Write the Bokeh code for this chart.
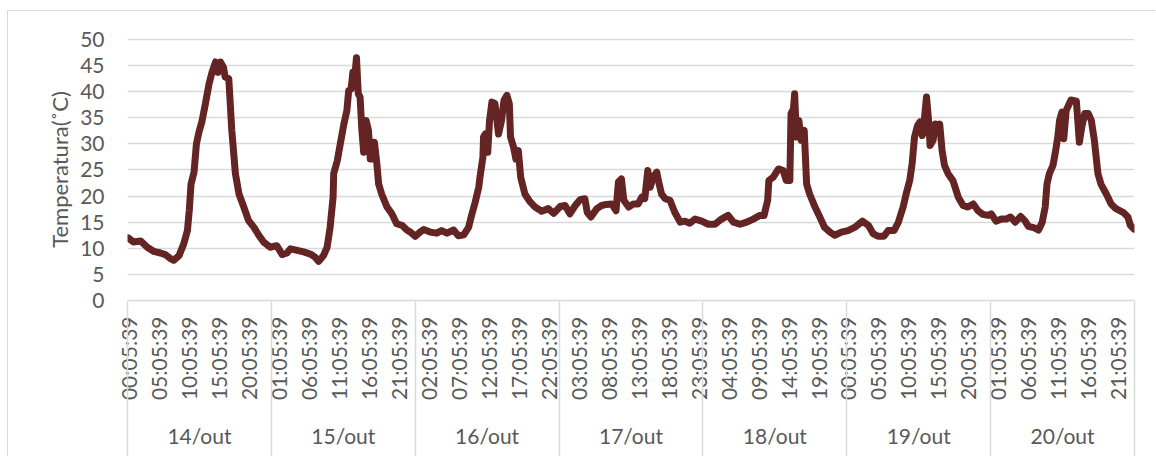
import math
from bokeh.plotting import figure
from bokeh.models import Range1d, FixedTicker, LinearAxis
from bokeh.embed import file_html
from bokeh.resources import INLINE

# ---------------- data ----------------
days = ["14/out", "15/out", "16/out", "17/out", "18/out", "19/out", "20/out"]

time_labels = [
    "00:05:39", "05:05:39", "10:05:39", "15:05:39", "20:05:39",
    "01:05:39", "06:05:39", "11:05:39", "16:05:39", "21:05:39",
    "02:05:39", "07:05:39", "12:05:39", "17:05:39", "22:05:39",
    "03:05:39", "08:05:39", "13:05:39", "18:05:39", "23:05:39",
    "04:05:39", "09:05:39", "14:05:39", "19:05:39",
    "00:05:39", "05:05:39", "10:05:39", "15:05:39", "20:05:39",
    "01:05:39", "06:05:39", "11:05:39", "16:05:39", "21:05:39",
]

y_ticks = [0, 5, 10, 15, 20, 25, 30, 35, 40, 45, 50]

# hours since 14/out 00:00
hours = [
    0.1, 1.0, 2.2, 3.3, 4.4, 5.5, 6.3, 7.2, 7.7, 8.6, 9.4, 10.0, 10.3, 10.6, 11.1, 11.5, 11.9,
    12.4, 13.0, 13.6, 14.1, 14.7, 15.1, 15.5, 16.0, 16.3, 16.9, 17.4, 18.0, 18.6, 19.4, 20.2,
    21.1, 21.9, 22.7, 23.8, 24.9, 25.8, 26.6, 27.2, 28.3, 29.4, 30.5, 31.3, 31.9, 32.7, 33.3,
    33.8, 34.3, 34.4, 35.0, 35.5, 36.1, 36.6, 36.9, 37.3, 37.6, 37.8, 38.2, 38.5, 38.8, 39.1,
    39.4, 39.8, 40.2, 40.5, 40.9, 41.2, 41.6, 41.9, 42.4, 43.3, 44.1, 44.9, 45.8, 46.6, 47.2,
    48.0, 48.8, 49.4, 50.5, 51.6, 52.4, 53.3, 54.4, 55.2, 56.1, 56.9, 57.4, 58.0, 58.6, 58.8,
    59.3, 59.4, 59.7, 60.1, 60.4, 60.8, 61.3, 61.9, 62.4, 62.8, 63.3, 63.7, 63.9, 64.4, 64.8,
    65.2, 65.6, 66.3, 67.1, 68.0, 69.1, 70.2, 71.1, 72.2, 73.0, 73.8, 74.7, 75.5, 76.3, 76.7,
    77.3, 78.3, 79.1, 79.9, 80.8, 81.5, 81.9, 82.4, 82.8, 83.6, 84.4, 85.2, 85.8, 86.3, 86.8,
    87.2, 87.7, 88.3, 88.7, 89.1, 89.7, 90.5, 91.3, 92.2, 93.0, 93.8, 94.7, 95.8, 96.9, 98.0,
    99.1, 100.2, 101.1, 102.2, 103.3, 104.4, 105.5, 106.2, 106.8, 107.0, 107.7, 108.6, 109.4,
    109.9, 110.5, 110.7, 111.1, 111.3, 111.6, 112.0, 112.4, 112.9, 113.3, 113.8, 114.7, 115.5,
    116.3, 117.2, 118.0, 119.1, 120.2, 121.3, 122.6, 123.6, 124.4, 125.2, 126.2, 126.9, 127.9,
    128.6, 129.4, 129.9, 130.5, 130.9, 131.3, 131.8, 132.2, 132.6, 132.9, 133.3, 133.7, 133.9,
    134.4, 134.8, 135.2, 135.5, 135.9, 136.3, 136.9, 137.7, 138.6, 139.4, 140.2, 141.1, 141.9,
    142.7, 143.6, 144.1, 144.9, 145.8, 146.6, 147.3, 148.1, 149.0, 149.7, 150.3, 151.3, 152.0,
    152.6, 153.1, 153.4, 153.8, 154.4, 154.8, 155.2, 155.5, 155.9, 156.2, 156.6, 157.0, 157.4,
    158.3, 158.8, 159.2, 159.7, 160.3, 160.8, 161.3, 161.9, 162.4, 163.3, 164.1, 164.9, 166.1,
    166.9, 167.3, 167.9,
]

temps = [
    12.0, 11.2, 11.4, 10.2, 9.4, 9.1, 8.8, 8.0, 7.7, 8.6, 10.9, 13.4, 17.2, 22.3, 24.6, 30.0, 32.2,
    34.2, 37.7, 41.5, 43.7, 45.7, 43.7, 45.7, 44.7, 42.8, 42.5, 32.6, 24.3, 20.4, 17.9, 15.3,
    14.0, 12.5, 11.2, 10.2, 10.5, 8.8, 9.1, 9.9, 9.6, 9.3, 8.9, 8.3, 7.5, 8.6, 10.2,
    14.0, 19.8, 24.3, 26.8, 30.0, 33.8, 36.4, 40.2, 40.5, 43.7, 41.5, 46.5, 39.6, 39.0, 32.6,
    28.4, 34.5, 32.6, 27.1, 27.1, 30.3, 26.2, 22.3, 20.4, 17.9, 16.6, 14.7, 14.4, 13.5, 13.1,
    12.3, 13.1, 13.6, 13.1, 12.9, 13.4, 12.9, 13.5, 12.4, 12.6, 14.0, 16.3, 18.8, 21.7, 23.6,
    27.5, 31.3, 31.9, 28.4, 34.5, 38.0, 37.7, 31.9, 34.5, 38.3, 39.3, 37.7, 31.3, 29.4, 27.1,
    28.7, 23.6, 20.4, 19.0, 17.9, 17.1, 17.6, 16.7, 18.0, 18.2, 16.6, 18.2, 19.3, 19.5, 16.9,
    16.0, 17.6, 18.2, 18.4, 18.5, 17.2, 22.7, 23.3, 19.2, 17.9, 18.5, 18.5, 19.8, 19.5, 24.9,
    21.7, 23.6, 24.6, 22.3, 20.4, 19.5, 19.2, 16.9, 15.0, 15.2, 14.8, 15.6, 15.2, 14.6, 14.6,
    15.6, 16.3, 15.0, 14.6, 15.0, 15.6, 16.3, 16.3, 19.2, 23.0, 23.6, 25.2, 24.9,
    23.0, 23.0, 35.8, 36.7, 39.6, 31.3, 34.5, 30.7, 32.6, 22.3, 20.4, 17.9, 16.0,
    14.0, 13.1, 12.5, 13.1, 13.4, 14.0, 15.2, 14.4, 12.8, 12.3, 12.3, 13.4, 13.4,
    15.0, 17.9, 20.4, 23.0, 26.2, 31.3, 33.5, 34.2, 31.6, 34.2, 39.0, 33.8, 29.7,
    30.7, 33.8, 33.2, 33.8, 28.7, 25.9, 24.3, 23.0, 19.8, 18.2, 17.9, 18.5, 17.2,
    16.5, 16.3, 16.6, 15.2, 15.6, 15.6, 16.0, 15.0, 16.1, 15.3, 14.2, 13.9, 13.5,
    15.0, 17.9, 22.3, 24.3, 25.9, 28.4, 31.3, 34.5, 36.1, 31.0, 36.4, 37.4, 38.4,
    38.2, 30.3, 33.2, 35.8, 35.8, 34.5, 30.7, 24.3, 22.3, 20.4, 18.5, 17.6, 16.9,
    16.0, 14.4, 13.7,
]

# ---------------- style ----------------
FONT = "Lato"
TXT = "#595959"
GRID = "#d9d9d9"
LINE = "#632423"
FS = "21px"

n_days = len(days)
edges = [i * 24 for i in range(n_days + 1)]
tick_x = [round(i * 5 + 0.2, 3) for i in range(len(time_labels))]
day_x = [i * 24 + 12 for i in range(n_days)]

p = figure(width=1148, height=446,
           x_range=Range1d(0, n_days * 24), y_range=Range1d(0, 50.19),
           output_backend="svg", toolbar_location=None, x_axis_location=None,
           min_border_left=119, min_border_right=22, min_border_top=27,
           min_border_bottom=157)
# outer chart-area border (left and top edges visible in the reference)
p.styles = {"margin-left": "7px", "margin-top": "10px",
            "border-left": "1px solid #d9d9d9", "border-top": "1px solid #d9d9d9"}
p.outline_line_color = None
for g in p.xgrid:
    g.visible = False
p.ygrid.ticker = FixedTicker(ticks=y_ticks)
p.ygrid.grid_line_color = GRID
p.ygrid.grid_line_width = 1.5

# y axis
ay = p.yaxis[0]
ay.ticker = FixedTicker(ticks=y_ticks)
ay.axis_line_color = None
ay.major_tick_line_color = None
ay.minor_tick_line_color = None
ay.major_tick_out = 0
ay.major_tick_in = 0
ay.major_label_standoff = 23
ay.major_label_text_font = FONT
ay.major_label_text_font_size = FS
ay.major_label_text_color = TXT
ay.axis_label = "Temperatura(˚C)"
ay.axis_label_text_font = FONT
ay.axis_label_text_font_size = "22px"
ay.axis_label_text_font_style = "normal"
ay.axis_label_text_color = TXT
ay.axis_label_standoff = 4


def style_axis(a):
    a.axis_line_color = None
    a.major_tick_line_color = None
    a.major_tick_out = 0
    a.major_tick_in = 0
    a.minor_tick_line_color = None
    a.minor_tick_out = 0
    a.minor_tick_in = 0
    a.major_label_text_font = FONT
    a.major_label_text_font_size = FS
    a.major_label_text_color = TXT


# level 1: time labels
xa = LinearAxis(ticker=FixedTicker(ticks=tick_x),
                major_label_overrides={t: s for t, s in zip(tick_x, time_labels)})
style_axis(xa)
xa.axis_line_color = GRID
xa.axis_line_width = 1.5
xa.major_label_orientation = math.pi / 2
xa.major_label_standoff = 16
p.add_layout(xa, "below")

# level 2: day labels
xb = LinearAxis(ticker=FixedTicker(ticks=day_x),
                major_label_overrides={t: s for t, s in zip(day_x, days)})
style_axis(xb)
xb.major_label_standoff = 19
p.add_layout(xb, "below")

# separators between days: ticks of an unlabeled axis at the bottom, drawn upwards
xc = LinearAxis(ticker=FixedTicker(ticks=[], minor_ticks=edges))
style_axis(xc)
xc.major_label_text_font_size = "0px"
xc.minor_tick_line_color = GRID
xc.minor_tick_line_width = 1.5
xc.minor_tick_in = 149
xc.minor_tick_out = 6
p.add_layout(xc, "below")

p.line(hours, temps, line_width=7, line_color=LINE, line_join="round", line_cap="round")

open("out.html", "w").write(file_html(p, INLINE))
